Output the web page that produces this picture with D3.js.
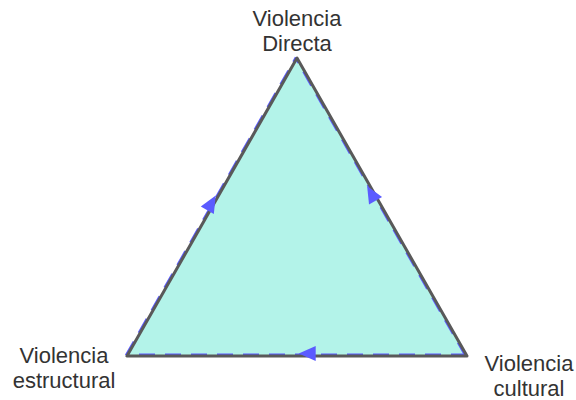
<!DOCTYPE html>
<html>
<head>
<meta charset="utf-8">
<script src="https://cdn.jsdelivr.net/npm/d3@7"></script>
<style>
  html, body { margin: 0; padding: 0; background: #fff; }
  svg { display: block; }
</style>
</head>
<body>
<svg id="chart" width="576" height="400"></svg>
<script>
// Vertices of the triangle in unit space (x: 0..1, y: 0..1)
const nodes = ["Violencia Directa", "Violencia estructural", "Violencia cultural"];
const nodeX = [0.5, 0, 1];
const nodeY = [1, 0, 0];
const labelLines = [["Violencia", "Directa"], ["Violencia", "estructural"], ["Violencia", "cultural"]];
// Flows (from -> to), drawn as dashed blue arrows along the edges
const flowFrom = [2, 1, 2];
const flowTo   = [1, 0, 0];
const flowSide = [1, -1, -1];   // offset side of the arrow relative to the edge
const arrowT   = [0.47, 0.51, 0.55]; // relative position of each arrowhead along its edge

const svg = d3.select("#chart");
const x = d3.scaleLinear().domain([0, 1]).range([127, 467]);
const y = d3.scaleLinear().domain([0, 1]).range([356, 58]);

const pts = nodes.map((n, i) => [x(nodeX[i]), y(nodeY[i])]);

// Fill
svg.append("path")
  .attr("d", d3.line()(pts) + "Z")
  .attr("fill", "#b3f3e9")
  .attr("stroke", "none");

// Blue dashed flow lines
const off = 1.4;
flowFrom.forEach((f, k) => {
  const a = pts[f], b = pts[flowTo[k]];
  const dx = b[0] - a[0], dy = b[1] - a[1];
  const L = Math.hypot(dx, dy);
  const nx = -dy / L * off * flowSide[k], ny = dx / L * off * flowSide[k];
  svg.append("line")
    .attr("x1", a[0] + nx).attr("y1", a[1] + ny)
    .attr("x2", b[0] + nx).attr("y2", b[1] + ny)
    .attr("stroke", "#5b5bff")
    .attr("stroke-width", 2)
    .attr("stroke-dasharray", "16,10");
});

// Gray outline
svg.append("path")
  .attr("d", d3.line()(pts) + "Z")
  .attr("fill", "none")
  .attr("stroke", "#595959")
  .attr("stroke-width", 3)
  .attr("stroke-linejoin", "round");

// Arrowheads
flowFrom.forEach((f, k) => {
  const a = pts[f], b = pts[flowTo[k]];
  const dx = b[0] - a[0], dy = b[1] - a[1];
  const L = Math.hypot(dx, dy);
  const ux = dx / L, uy = dy / L;
  const nx = -uy * 2.5 * flowSide[k], ny = ux * 2.5 * flowSide[k];
  const cx = a[0] + dx * arrowT[k] + nx, cy = a[1] + dy * arrowT[k] + ny;
  const len = 17, half = 7.5;
  const tip = [cx + ux * len / 2, cy + uy * len / 2];
  const base = [cx - ux * len / 2, cy - uy * len / 2];
  const p1 = [base[0] - uy * half, base[1] + ux * half];
  const p2 = [base[0] + uy * half, base[1] - ux * half];
  svg.append("path")
    .attr("d", d3.line()([tip, p1, p2]) + "Z")
    .attr("fill", "#5b5bff");
});

// Labels
const labelX = [297, 64, 529];
const labelY = [26, 363, 371];
labelLines.forEach((lines, i) => {
  const t = svg.append("text")
    .attr("text-anchor", "middle")
    .attr("font-family", "Liberation Sans, Arial, sans-serif")
    .attr("font-size", 22)
    .attr("fill", "#333333");
  lines.forEach((ln, j) => {
    t.append("tspan")
      .attr("x", labelX[i])
      .attr("y", labelY[i] + j * 25)
      .text(ln);
  });
});
</script>
</body>
</html>
